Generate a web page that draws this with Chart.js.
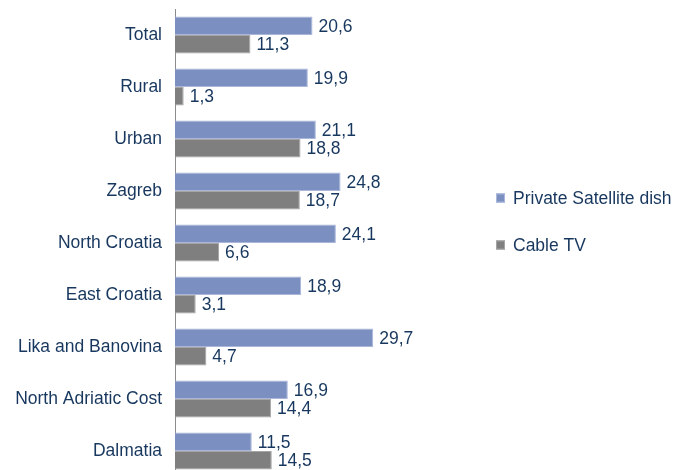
<!DOCTYPE html>
<html>
<head>
<meta charset="utf-8">
<script src="https://cdn.jsdelivr.net/npm/chart.js@4"></script>
<style>
  html, body { margin: 0; padding: 0; background: #ffffff; overflow: hidden; }
  #wrap { width: 677px; height: 470px; overflow: hidden; }
  canvas { display: block; }
</style>
</head>
<body>
<div id="wrap"><canvas id="chart" width="677" height="490"></canvas></div>
<script>
// Regions and the share of households (%) by type of TV reception
const categories = ['Total', 'Rural', 'Urban', 'Zagreb', 'North Croatia', 'East Croatia',
  'Lika and Banovina', 'North Adriatic Cost', 'Dalmatia'];
const satelliteDish = [20.6, 19.9, 21.1, 24.8, 24.1, 18.9, 29.7, 16.9, 11.5];
const cableTV = [11.3, 1.3, 18.8, 18.7, 6.6, 3.1, 4.7, 14.4, 14.5];
const seriesNames = ['Private Satellite dish', 'Cable TV'];

const TEXT = '#17375e';
const FONT = 'Liberation Sans, Arial, Helvetica, sans-serif';
const FONT_SIZE = 17.5;
const fmt = v => v.toFixed(1).replace('.', ',');

// Numbers printed just past the end of each bar
const valueLabels = {
  id: 'valueLabels',
  afterDatasetsDraw(chart) {
    const ctx = chart.ctx;
    ctx.save();
    ctx.font = FONT_SIZE + 'px ' + FONT;
    ctx.fillStyle = TEXT;
    ctx.textAlign = 'left';
    ctx.textBaseline = 'middle';
    chart.data.datasets.forEach((ds, i) => {
      chart.getDatasetMeta(i).data.forEach((bar, j) => {
        ctx.fillText(fmt(ds.data[j]), bar.x + 6, bar.y + 1);
      });
    });
    ctx.restore();
  }
};

// Legend to the right of the plot
const sideLegend = {
  id: 'sideLegend',
  afterDraw(chart) {
    const ctx = chart.ctx;
    ctx.save();
    ctx.font = FONT_SIZE + 'px ' + FONT;
    ctx.textAlign = 'left';
    ctx.textBaseline = 'middle';
    const x = 496, ys = [198, 245];
    chart.data.datasets.forEach((ds, i) => {
      const y = ys[i];
      ctx.fillStyle = ds.backgroundColor;
      ctx.fillRect(x, y - 4.5, 9, 9);
      ctx.strokeStyle = ds.borderColor;
      ctx.lineWidth = 1;
      ctx.strokeRect(x + 0.5, y - 4, 8, 8);
      ctx.fillStyle = TEXT;
      ctx.fillText(ds.label, x + 17, y + 1);
    });
    ctx.restore();
  }
};

new Chart(document.getElementById('chart'), {
  type: 'bar',
  data: {
    labels: categories,
    datasets: [
      {
        label: seriesNames[0],
        data: satelliteDish,
        backgroundColor: '#7b8fc1',
        borderColor: '#aab7da',
        borderWidth: 1,
        categoryPercentage: 0.71,
        barPercentage: 1.0
      },
      {
        label: seriesNames[1],
        data: cableTV,
        backgroundColor: '#7f7f7f',
        borderColor: '#a5a5a5',
        borderWidth: 1,
        categoryPercentage: 0.71,
        barPercentage: 1.0
      }
    ]
  },
  options: {
    indexAxis: 'y',
    responsive: false,
    animation: false,
    devicePixelRatio: 1,
    layout: { padding: { top: 9, bottom: 13, left: 0, right: 235 } },
    plugins: {
      legend: { display: false },
      tooltip: { enabled: false },
      title: { display: false }
    },
    scales: {
      x: {
        display: false,
        min: 0,
        max: 40
      },
      y: {
        afterFit(scale) {
          scale.width = 175;
          scale.paddingTop = 0;
          scale.paddingBottom = 0;
        },
        grid: { display: false, drawTicks: false },
        border: { display: true, color: '#8c8c8c', width: 1 },
        ticks: {
          padding: 13,
          color: TEXT,
          font: { family: FONT, size: FONT_SIZE }
        }
      }
    }
  },
  plugins: [valueLabels, sideLegend]
});
</script>
</body>
</html>
